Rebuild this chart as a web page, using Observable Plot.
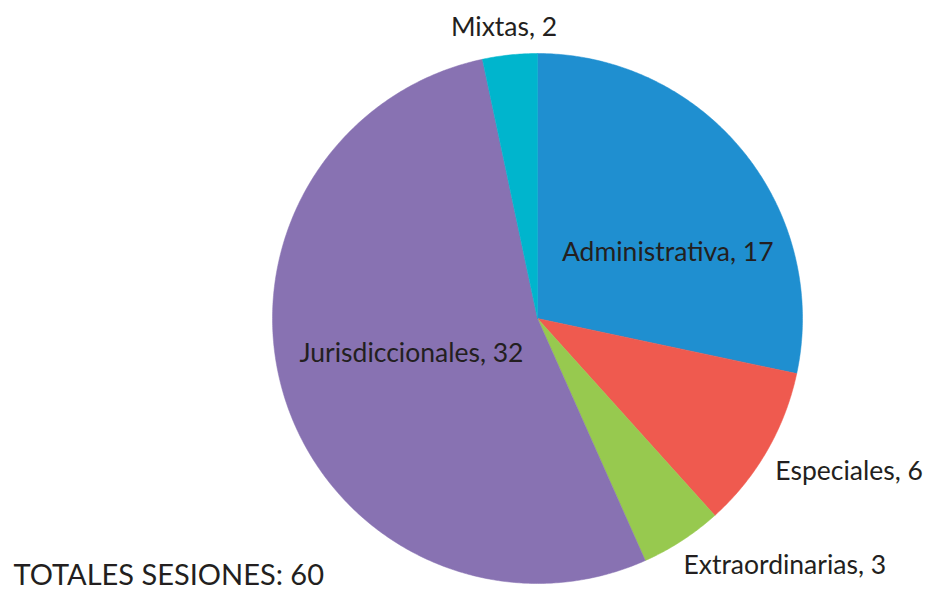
<!DOCTYPE html>
<html>
<head>
<meta charset="utf-8">
<script src="https://cdn.jsdelivr.net/npm/d3@7"></script>
<script src="https://cdn.jsdelivr.net/npm/@observablehq/plot@0.6"></script>
<style>
  body { margin: 0; background: #fff; }
  #chart svg { display: block; }
</style>
</head>
<body>
<div id="chart"></div>
<script>
const categories = ["Administrativa", "Especiales", "Extraordinarias", "Jurisdiccionales", "Mixtas"];
const values = [17, 6, 3, 32, 2];
const colors = ["#1f8fd0", "#ef5a4f", "#97c94f", "#8872b2", "#00b5cd"];
const totalLabel = "TOTALES SESIONES: 60";

// label placement (radius factor, anchor, offsets) per category
const placement = {
  "Administrativa":   {r: 0.55, anchor: "middle", dx: 17, dy: 26},
  "Especiales":       {r: 1.08, anchor: "start",  dx: -10, dy: 10},
  "Extraordinarias":  {r: 1.08, anchor: "start",  dx: -10, dy: 7},
  "Jurisdiccionales": {r: 0.50, anchor: "middle", dx: 0,  dy: -6},
  "Mixtas":           {r: 1.10, anchor: "middle", dx: -3, dy: -1}
};

const total = d3.sum(values);
const slices = [];
let cum = 0;
categories.forEach((c, i) => {
  const a0 = cum / total * 2 * Math.PI;
  cum += values[i];
  const a1 = cum / total * 2 * Math.PI;
  slices.push({category: c, value: values[i], a0, a1, mid: (a0 + a1) / 2});
});

// polygon points for each slice (angles clockwise from top)
const points = [];
for (const s of slices) {
  points.push({category: s.category, x: 0, y: 0});
  const n = Math.max(2, Math.ceil((s.a1 - s.a0) / (Math.PI / 360)));
  for (let k = 0; k <= n; k++) {
    const a = s.a0 + (s.a1 - s.a0) * k / n;
    points.push({category: s.category, x: Math.sin(a), y: Math.cos(a)});
  }
  points.push({category: s.category, x: 0, y: 0});
}

const labels = slices.map(s => {
  const p = placement[s.category];
  return {
    category: s.category,
    text: `${s.category}, ${s.value}`,
    x: p.r * Math.sin(s.mid),
    y: p.r * Math.cos(s.mid),
    anchor: p.anchor, dx: p.dx, dy: p.dy
  };
});

const font = "Lato, 'Noto Sans', sans-serif";
const textMarks = labels.map(l => Plot.text([l], {
  x: "x", y: "y", text: "text",
  textAnchor: l.anchor, dx: l.dx, dy: l.dy,
  fill: "#231f20", fontSize: 26.5, fontWeight: 400
}));

const chart = Plot.plot({
  width: 927,
  height: 592,
  margin: 0,
  style: {fontFamily: font, background: "#fff"},
  x: {domain: [-1, 1], range: [272, 802], axis: null},
  y: {domain: [-1, 1], range: [583, 53], axis: null},
  color: {domain: categories, range: colors},
  marks: [
    Plot.line(points, {x: "x", y: "y", z: "category", fill: "category", stroke: "category", strokeWidth: 0.5, curve: "linear"}),
    ...textMarks,
    Plot.text([totalLabel], {
      frameAnchor: "bottom-left", text: d => d, textAnchor: "start", lineAnchor: "bottom",
      dx: 13, dy: -8, fill: "#231f20", fontSize: 29, fontWeight: 400
    })
  ]
});
document.getElementById("chart").appendChild(chart);
</script>
</body>
</html>
